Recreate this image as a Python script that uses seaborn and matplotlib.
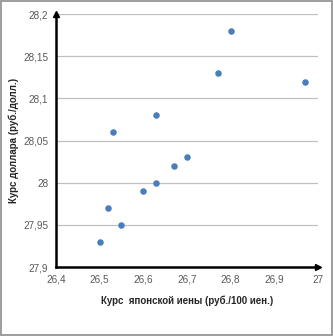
import matplotlib
matplotlib.use("Agg")
import matplotlib.pyplot as plt
import seaborn as sns
import pandas as pd
from matplotlib.patches import Rectangle

yen = [26.50, 26.52, 26.53, 26.55, 26.60, 26.63, 26.63, 26.67, 26.70, 26.77, 26.80, 26.97]
usd = [27.93, 27.97, 28.06, 27.95, 27.99, 28.00, 28.08, 28.02, 28.03, 28.13, 28.18, 28.12]
x_ticks = [26.4, 26.5, 26.6, 26.7, 26.8, 26.9, 27.0]
x_tick_labels = ["26,4", "26,5", "26,6", "26,7", "26,8", "26,9", "27"]
y_ticks = [27.9, 27.95, 28.0, 28.05, 28.1, 28.15, 28.2]
y_tick_labels = ["27,9", "27,95", "28", "28,05", "28,1", "28,15", "28,2"]
x_label = "Курс  японской иены (руб./100 иен.)"
y_label = "Курс доллара (руб./долл.)"

sns.set_style("white")
plt.rcParams['font.family'] = ['Liberation Sans', 'DejaVu Sans']

df = pd.DataFrame({"yen": yen, "usd": usd})
fig = plt.figure(figsize=(3.33, 3.36), dpi=100)
ax = fig.add_axes([0.168, 0.205, 0.787, 0.753])
sns.scatterplot(data=df, x="yen", y="usd", ax=ax, color="#4a7ebb", s=22,
                edgecolor="#4a7ebb", linewidth=0, zorder=3)
ax.set_xlim(26.4, 27.0)
ax.set_ylim(27.9, 28.2)
ax.set_xticks(x_ticks)
ax.set_xticklabels(x_tick_labels)
ax.set_yticks(y_ticks)
ax.set_yticklabels(y_tick_labels)
ax.tick_params(axis='both', labelsize=7.2, length=3, width=1, direction='out',
               colors="black", labelcolor="#595959", pad=2.5)
for y in y_ticks[1:]:
    ax.axhline(y, color="#c0c0c0", lw=0.9, zorder=1)
for side in ["top", "right"]:
    ax.spines[side].set_visible(False)
for side in ["left", "bottom"]:
    ax.spines[side].set_color("black")
    ax.spines[side].set_linewidth(1.8)
ax.plot([1.0], [0], marker=">", color="black", markersize=4, transform=ax.transAxes, clip_on=False)
ax.plot([0], [1.0], marker="^", color="black", markersize=4, transform=ax.transAxes, clip_on=False)
ax.set_xlabel(x_label, fontsize=7, fontweight='bold')
ax.set_ylabel(y_label, fontsize=7, fontweight='bold')
ax.xaxis.set_label_coords(0.502, -0.111)
ax.yaxis.set_label_coords(-0.14, 0.5)
fig.patches.append(Rectangle((0.003, 0.003), 0.994, 0.994, transform=fig.transFigure,
                             fill=False, edgecolor="#8c8c8c", lw=1.2))
fig.savefig("out.png", dpi=100)
